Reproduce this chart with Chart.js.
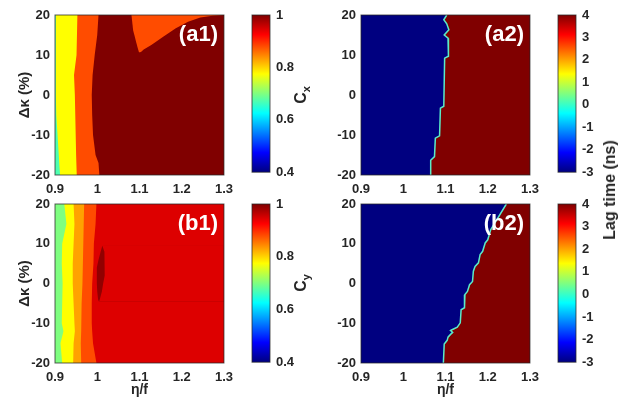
<!DOCTYPE html>
<html>
<head>
<meta charset="utf-8">
<script src="https://cdn.jsdelivr.net/npm/chart.js@4.4.1/dist/chart.umd.min.js"></script>
<style>
  body { margin: 0; background: #fff; }
  #fig { position: relative; width: 622px; height: 399px; overflow: hidden;
         font-family: "Liberation Sans", Arial, sans-serif; color: #262626; }
  #fig canvas { position: absolute; }
  .lbl { position: absolute; transform: translate(-50%, -50%) rotate(-90deg); white-space: nowrap; color: #262626; }
</style>
</head>
<body>
<div id="fig">
  <canvas id="a1" width="240" height="200" style="left:0;top:0"></canvas>
  <canvas id="a1bar" width="70" height="186" style="left:240px;top:0"></canvas>
  <canvas id="a2" width="240" height="200" style="left:306px;top:0"></canvas>
  <canvas id="a2bar" width="76" height="186" style="left:546px;top:0"></canvas>
  <canvas id="b1" width="240" height="209" style="left:0;top:190px"></canvas>
  <canvas id="b1bar" width="70" height="186" style="left:240px;top:190px"></canvas>
  <canvas id="b2" width="240" height="209" style="left:306px;top:190px"></canvas>
  <canvas id="b2bar" width="76" height="186" style="left:546px;top:190px"></canvas>
  <div class="lbl" style="left:302px;top:95px;font-weight:bold;font-size:16px">C<sub style="font-size:11px">x</sub></div>
  <div class="lbl" style="left:302px;top:283px;font-weight:bold;font-size:16px">C<sub style="font-size:11px">y</sub></div>
  <div class="lbl" style="left:610px;top:190px;font-size:16px;font-weight:bold">Lag time (ns)</div>
</div>
<script>
'use strict';

//////// DATA ////////
const etaTicks = [0.9, 1, 1.1, 1.2, 1.3];
const dkTicks = [-20, -10, 0, 10, 20];
const cTicks = [0.4, 0.6, 0.8, 1];
const lagTicks = [-3, -2, -1, 0, 1, 2, 3, 4];
const cRange = [0.4, 1];
const lagRange = [-3, 4];

// left edge of every map (first band starts here)
const edgeRows = [20, -20];
const edgeLeft = [0.9, 0.9];

// (a1) Cx bands, left -> right ; each "From" array = eta/f where the band starts
const a1Levels = [0.67, 0.775, 0.88, 1.0];
const a1Rows = [20, 15, 10, 5, 0, -5, -10, -15, -17, -20];
const a1YellowFrom = [0.902, 0.902, 0.902, 0.902, 0.902, 0.903, 0.906, 0.909, 0.910, 0.912];
const a1OrangeFrom = [0.953, 0.952, 0.951, 0.945, 0.947, 0.948, 0.949, 0.950, 0.951, 0.952];
const a1DarkFrom = [1.003, 1.000, 0.994, 0.989, 0.987, 0.988, 0.990, 0.996, 1.003, 1.005];
// orange tongue at the top right
const a1TongueRowsL = [20, 16.2, 13.7, 11.7, 10.6];
const a1TongueL = [1.081, 1.085, 1.091, 1.096, 1.099];
const a1TongueRowsR = [20, 19.8, 19.4, 18.3, 16.7, 14.6, 12.5, 11.4, 10.3];
const a1TongueR = [1.300, 1.273, 1.244, 1.215, 1.186, 1.157, 1.128, 1.110, 1.099];

// (b1) Cy bands
const b1Levels = [0.70, 0.775, 0.83, 0.88, 0.945, 0.99];
const b1Rows = [20, 15, 10, 5, 0, -5, -10, -12, -15, -20];
const b1YellowFrom = [0.922, 0.927, 0.917, 0.916, 0.918, 0.917, 0.916, 0.920, 0.913, 0.917];
const b1OrangeFrom = [0.944, 0.946, 0.944, 0.942, 0.942, 0.944, 0.946, 0.947, 0.944, 0.943];
const b1OrRedFrom = [0.969, 0.968, 0.967, 0.966, 0.965, 0.963, 0.962, 0.962, 0.961, 0.962];
const b1RedFrom = [0.998, 0.996, 0.992, 0.991, 0.988, 0.987, 0.987, 0.988, 0.990, 0.998];
// dark spot near eta/f = 1
const b1SpotRows = [9.5, 8, 6, 4, 2, 0, -2, -4, -4.6];
const b1SpotL = [1.012, 1.008, 1.003, 0.999, 0.999, 0.999, 1.000, 1.002, 1.004];
const b1SpotR = [1.012, 1.017, 1.018, 1.018, 1.017, 1.014, 1.011, 1.006, 1.004];

// (a2) lag time: -3 ns left of the edge, 4 ns right of it
const lagLevels = [-3, 4];
const a2Rows = [20, 18.8, 17.8, 16.3, 15, 14.2, 9.7, 9.2, -2.8, -3.3, -10.2, -10.8, -15.4, -16.3, -20];
const a2EdgeX = [1.103, 1.096, 1.103, 1.108, 1.097, 1.106, 1.107, 1.098, 1.096, 1.088, 1.086, 1.076, 1.074, 1.065, 1.065];

// (b2)
const b2Rows = [20, 13.5, 11.0, 10.2, 8.1, 7.3, 5.2, 4.3, 3.1, 0.5, -0.3, -2.0, -2.8, -6.1, -6.6, -9.9,
  -11.0, -11.5, -11.8, -12.3, -12.8, -13.5, -14.3, -15.2, -20];
const b2EdgeX = [1.244, 1.207, 1.200, 1.194, 1.188, 1.182, 1.178, 1.170, 1.166, 1.164, 1.157, 1.152, 1.146, 1.145, 1.137, 1.135,
  1.128, 1.118, 1.112, 1.117, 1.112, 1.106, 1.104, 1.097, 1.095];

//////// HELPERS ////////
const ink = '#262626';
const fam = '"Liberation Sans", Arial, sans-serif';
const tickFont = {family: fam, size: 13, weight: 'bold'};
Chart.defaults.font.family = fam;
Chart.defaults.color = ink;

// matlab jet
function jetT(t) {
  const c = f => Math.round(255 * Math.max(0, Math.min(1, 1.5 - Math.abs(4 * t - f))));
  return 'rgb(' + c(3) + ',' + c(2) + ',' + c(1) + ')';
}
function jet(v, range) {
  return jetT((v - range[0]) / (range[1] - range[0]));
}

function layer(xs, ys, v, range, edge) {
  return {xs: xs, ys: ys, v: v, range: range, edge: edge};
}

const frame = {
  id: 'frame',
  afterDraw(chart) {
    const {ctx, chartArea: a} = chart;
    ctx.save();
    ctx.strokeStyle = 'rgba(38,38,38,0.75)';
    ctx.lineWidth = 1;
    ctx.strokeRect(a.left, a.top, a.right - a.left, a.bottom - a.top);
    ctx.restore();
  }
};

function tagPlugin(text) {
  return {
    id: 'tag',
    afterDatasetsDraw(chart) {
      const {ctx, chartArea: a} = chart;
      ctx.save();
      ctx.font = 'bold 22px ' + fam;
      ctx.fillStyle = '#fff';
      ctx.textAlign = 'right';
      ctx.textBaseline = 'middle';
      ctx.fillText(text, a.right - 6, a.top + 20);
      ctx.restore();
    }
  };
}

//////// MAP PANELS ////////
function mapPanel(id, layers, opts) {
  const n = layers.length;
  new Chart(document.getElementById(id), {
    type: 'line',
    data: {
      datasets: layers.map((l, i) => ({
        data: l.xs.map((x, k) => ({x: x, y: l.ys[k]})),
        fill: {value: etaTicks[etaTicks.length - 1]},
        backgroundColor: jet(l.v, l.range),
        borderColor: l.edge ? l.edge : 'rgba(0,0,0,0)',
        borderWidth: l.edge ? 1.5 : 1,
        pointRadius: 0,
        tension: 0,
        order: n - i
      }))
    },
    options: {
      indexAxis: 'y',
      responsive: false,
      animation: false,
      layout: {padding: {top: opts.top, right: 1}},
      plugins: {legend: {display: false}, tooltip: {enabled: false}},
      scales: {
        x: {
          type: 'linear',
          min: etaTicks[0],
          max: etaTicks[etaTicks.length - 1],
          afterBuildTicks: s => { s.ticks = etaTicks.map(v => ({value: v})); },
          afterFit: s => { s.height = opts.xh; },
          grid: {display: false, drawTicks: false},
          border: {display: false},
          ticks: {padding: 7, font: tickFont, color: ink, maxRotation: 0, autoSkip: false, callback: v => String(v)},
          title: {display: !!opts.xTitle, text: 'η/f', font: {size: 14, weight: 'bold'}, color: ink, padding: 0}
        },
        y: {
          type: 'linear',
          min: dkTicks[0],
          max: dkTicks[dkTicks.length - 1],
          afterBuildTicks: s => { s.ticks = dkTicks.map(v => ({value: v})); },
          afterFit: s => { s.width = 55; },
          grid: {display: false, drawTicks: false},
          border: {display: false},
          ticks: {padding: 5, font: tickFont, color: ink, autoSkip: false, callback: v => String(v)},
          title: {display: !!opts.yTitle, text: 'Δκ (%)', font: {size: 15, weight: 'bold'}, color: ink, padding: {top: 16, bottom: 0}}
        }
      }
    },
    plugins: [frame, tagPlugin(opts.tag)]
  });
}

//////// COLORBARS ////////
function jetGradient(chart) {
  const a = chart.chartArea;
  if (!a) return jetT(0.5);
  const g = chart.ctx.createLinearGradient(0, a.bottom, 0, a.top);
  [0, 0.125, 0.375, 0.625, 0.875, 1].forEach(t => g.addColorStop(t, jetT(t)));
  return g;
}

function colorBar(id, range, ticks, top, bottom, axisW) {
  new Chart(document.getElementById(id), {
    type: 'bar',
    data: {
      labels: [''],
      datasets: [{
        data: [range],
        backgroundColor: c => jetGradient(c.chart),
        borderWidth: 0,
        barPercentage: 1,
        categoryPercentage: 1
      }]
    },
    options: {
      responsive: false,
      animation: false,
      layout: {padding: {left: 12, top: top, bottom: bottom}},
      plugins: {legend: {display: false}, tooltip: {enabled: false}},
      scales: {
        x: {display: false},
        y: {
          position: 'right',
          min: range[0],
          max: range[1],
          afterBuildTicks: s => { s.ticks = ticks.map(v => ({value: v})); },
          afterFit: s => { s.width = axisW; },
          grid: {display: false, drawTicks: false},
          border: {display: false},
          ticks: {padding: 6, font: tickFont, color: ink, autoSkip: false, callback: v => String(v)}
        }
      }
    },
    plugins: [frame]
  });
}

//////// START ////////
mapPanel('a1', [
  layer(edgeLeft, edgeRows, a1Levels[0], cRange),
  layer(a1YellowFrom, a1Rows, a1Levels[1], cRange),
  layer(a1OrangeFrom, a1Rows, a1Levels[2], cRange),
  layer(a1DarkFrom, a1Rows, a1Levels[3], cRange),
  layer(a1TongueL, a1TongueRowsL, a1Levels[2], cRange),
  layer(a1TongueR, a1TongueRowsR, a1Levels[3], cRange)
], {top: 15, xh: 25, yTitle: true, tag: '(a1)'});

mapPanel('b1', [
  layer(edgeLeft, edgeRows, b1Levels[0], cRange),
  layer(b1YellowFrom, b1Rows, b1Levels[1], cRange),
  layer(b1OrangeFrom, b1Rows, b1Levels[2], cRange),
  layer(b1OrRedFrom, b1Rows, b1Levels[3], cRange),
  layer(b1RedFrom, b1Rows, b1Levels[4], cRange),
  layer(b1SpotL, b1SpotRows, b1Levels[5], cRange),
  layer(b1SpotR, b1SpotRows, b1Levels[4], cRange)
], {top: 14, xh: 36, yTitle: true, xTitle: true, tag: '(b1)'});

mapPanel('a2', [
  layer(edgeLeft, edgeRows, lagLevels[0], lagRange),
  layer(a2EdgeX, a2Rows, lagLevels[1], lagRange, 'rgb(90,235,200)')
], {top: 15, xh: 25, tag: '(a2)'});

mapPanel('b2', [
  layer(edgeLeft, edgeRows, lagLevels[0], lagRange),
  layer(b2EdgeX, b2Rows, lagLevels[1], lagRange, 'rgb(90,235,200)')
], {top: 14, xh: 36, xTitle: true, tag: '(b2)'});

colorBar('a1bar', cRange, cTicks, 15, 11, 40);
colorBar('b1bar', cRange, cTicks, 14, 13, 40);
colorBar('a2bar', lagRange, lagTicks, 15, 11, 46);
colorBar('b2bar', lagRange, lagTicks, 14, 13, 46);
</script>
</body>
</html>
